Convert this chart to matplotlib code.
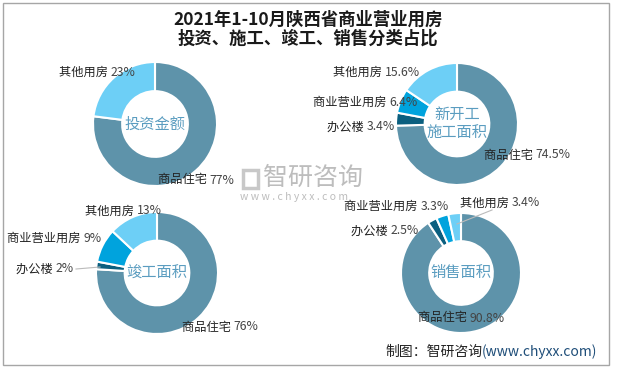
import matplotlib
matplotlib.use("Agg")
import matplotlib.pyplot as plt
from matplotlib.patches import Rectangle

plt.rcParams['font.family'] = ['Noto Sans CJK SC', 'DejaVu Sans']

W, H = 617, 368

title = "2021年1-10月陕西省商业营业用房\n投资、施工、竣工、销售分类占比"

# Data
cats_inv = ["商品住宅", "其他用房"]
vals_inv = [77, 23]
lbl_inv = ["77%", "23%"]

cats_new = ["商品住宅", "办公楼", "商业营业用房", "其他用房"]
vals_new = [74.5, 3.4, 6.4, 15.6]
lbl_new = ["74.5%", "3.4%", "6.4%", "15.6%"]

cats_done = ["商品住宅", "办公楼", "商业营业用房", "其他用房"]
vals_done = [76, 2, 9, 13]
lbl_done = ["76%", "2%", "9%", "13%"]

cats_sale = ["商品住宅", "办公楼", "商业营业用房", "其他用房"]
vals_sale = [90.8, 2.5, 3.3, 3.4]
lbl_sale = ["90.8%", "2.5%", "3.3%", "3.4%"]

color_map = {"商品住宅": "#5E93AA", "办公楼": "#0B5F7F",
             "商业营业用房": "#00A3DD", "其他用房": "#6DCFF6"}

fig = plt.figure(figsize=(W / 100, H / 100), dpi=100)
ax = fig.add_axes([0, 0, 1, 1])

def Y(y):
    return H - y

LBL_FS = 8.8

panels = [
    dict(cats=cats_inv, vals=vals_inv, lbls=lbl_inv, center=(155, 124), r=62, name="投资金额",
         pos={"商品住宅": (158, 180), "其他用房": (59, 72)}),
    dict(cats=cats_new, vals=vals_new, lbls=lbl_new, center=(457, 124), r=61, name="新开工\n施工面积",
         pos={"商品住宅": (484, 155), "办公楼": (327, 127), "商业营业用房": (313, 102), "其他用房": (333, 72)}),
    dict(cats=cats_done, vals=vals_done, lbls=lbl_done, center=(157, 273), r=61, name="竣工面积",
         pos={"商品住宅": (182, 327), "办公楼": (16, 269), "商业营业用房": (7, 238), "其他用房": (85, 211)}),
    dict(cats=cats_sale, vals=vals_sale, lbls=lbl_sale, center=(461, 273), r=60, name="销售面积",
         pos={"商品住宅": (418, 318), "办公楼": (351, 231), "商业营业用房": (344, 206), "其他用房": (460, 203)}),
]

for p in panels:
    cx, cy = p["center"]
    r = p["r"]
    ax.pie(p["vals"], startangle=90, counterclock=False, center=(cx, Y(cy)), radius=r,
           colors=[color_map[c] for c in p["cats"]],
           wedgeprops=dict(width=r * 0.47, edgecolor="white", linewidth=1.5))
    ax.text(cx, Y(cy), p["name"], ha="center", va="center", fontsize=11,
            color="#5B9DC0", linespacing=1.1)
    for c, l in zip(p["cats"], p["lbls"]):
        x, y = p["pos"][c]
        t = ax.text(x, Y(y), c + " ", ha="left", va="center", fontsize=LBL_FS, color="#222222")
        ax.annotate(l, xy=(1, 0.5), xycoords=t, ha="left", va="center",
                    fontsize=LBL_FS, color="#444444")

# leader lines
ax.plot([76, 100], [Y(269), Y(267)], color="#BBBBBB", lw=0.8)
ax.plot([492, 457], [Y(210), Y(224)], color="#BBBBBB", lw=0.8)

# watermark
ax.add_patch(Rectangle((243, Y(188)), 15, 18, facecolor="none", edgecolor="#C8C8C8", lw=2.5))
ax.text(263, Y(178), "智研咨询", ha="left", va="center", fontsize=18, color="#BDBDBD")
ax.text(240, Y(197), "w w w . c h y x x . c o m", ha="left", va="center", fontsize=7.5, color="#BDBDBD")

# title
ax.text(308, Y(29), title, ha="center", va="center", fontsize=12.5, fontweight="bold",
        color="#1A1A1A", linespacing=1.1)

# footer
t = ax.text(385, Y(352), "制图：智研咨询", ha="left", va="center", fontsize=10, color="#222222")
ax.annotate("(www.chyxx.com)", xy=(1, 0.5), xycoords=t, ha="left", va="center",
            fontsize=10, color="#1F4E79")

# border
ax.add_patch(Rectangle((3, Y(365)), 606, 362, facecolor="none", edgecolor="#A6A6A6", lw=1))

ax.set_xlim(0, W)
ax.set_ylim(0, H)
ax.set_aspect("auto")
ax.axis("off")

fig.savefig("out.png", dpi=100)
